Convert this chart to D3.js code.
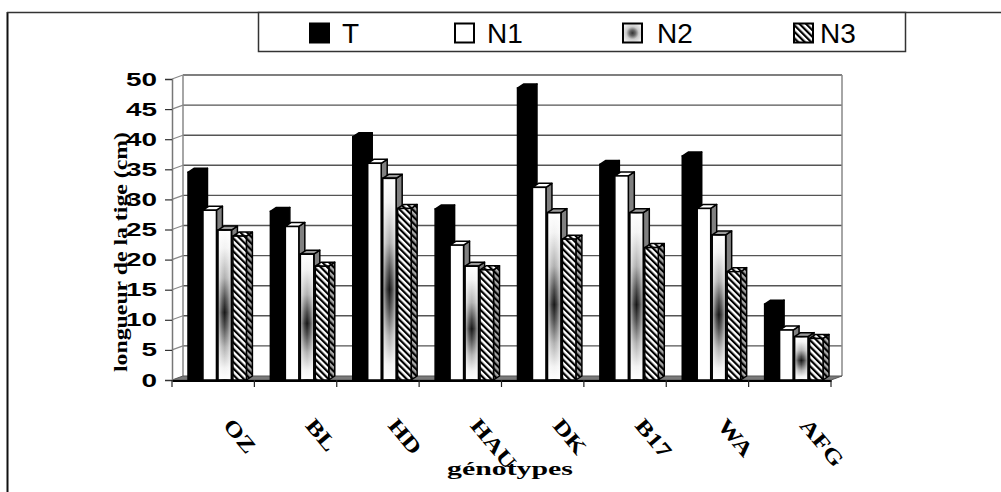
<!DOCTYPE html>
<html><head><meta charset="utf-8">
<script src="https://cdn.jsdelivr.net/npm/d3@7"></script>
<style>html,body{margin:0;padding:0;background:#fff;}svg{display:block;}</style>
</head><body>
<svg id="chart" width="1001" height="492"></svg>
<script>
const categories = ["OZ","BL","HD","HAU","DK","B17","WA","AFG"];
const seriesNames = ["T","N1","N2","N3"];
const valuesT  = [34.5, 28.0, 40.4, 28.4, 48.5, 35.8, 37.2, 12.6];
const valuesN1 = [28.2, 25.5, 36.0, 22.4, 32.0, 33.9, 28.5, 8.3];
const valuesN2 = [24.9, 20.9, 33.5, 18.9, 27.8, 27.8, 24.1, 7.2];
const valuesN3 = [23.9, 18.9, 28.5, 18.3, 23.4, 22.0, 18.0, 6.9];
const yTicks = [0,5,10,15,20,25,30,35,40,45,50];
const yTitle = "longueur de la tige (cm)";
const xTitle = "génotypes";

const seriesValues = [valuesT, valuesN1, valuesN2, valuesN3];

const svg = d3.select("#chart");
const defs = svg.append("defs");

// hatch pattern
const hp = defs.append("pattern").attr("id","hatch").attr("patternUnits","userSpaceOnUse")
  .attr("width",4.6).attr("height",4.6).attr("patternTransform","rotate(-45)");
hp.append("rect").attr("width",4.6).attr("height",4.6).attr("fill","#fff");
hp.append("rect").attr("width",2.2).attr("height",4.6).attr("fill","#000");
const hp2 = defs.append("pattern").attr("id","hatchDark").attr("patternUnits","userSpaceOnUse")
  .attr("width",4.6).attr("height",4.6).attr("patternTransform","rotate(-45)");
hp2.append("rect").attr("width",4.6).attr("height",4.6).attr("fill","#aaa");
hp2.append("rect").attr("width",2.2).attr("height",4.6).attr("fill","#000");

// gradient for N2
const gv = defs.append("linearGradient").attr("id","gradV").attr("x1",0).attr("y1",0).attr("x2",0).attr("y2",1);
[[0,"#ffffff"],[0.12,"#f2f2f2"],[0.32,"#b0b0b0"],[0.46,"#4a4a4a"],[0.55,"#151515"],[0.64,"#4a4a4a"],[0.78,"#b0b0b0"],[0.92,"#f2f2f2"],[1,"#ffffff"]]
  .forEach(([o,c])=>gv.append("stop").attr("offset",o).attr("stop-color",c));
const gh = defs.append("linearGradient").attr("id","gradH").attr("x1",0).attr("y1",0).attr("x2",1).attr("y2",0);
[[0,0.7],[0.3,0.2],[0.5,0],[0.7,0.2],[1,0.7]]
  .forEach(([o,op])=>gh.append("stop").attr("offset",o).attr("stop-color","#fff").attr("stop-opacity",op));
const gr = defs.append("radialGradient").attr("id","gradR").attr("cx",0.5).attr("cy",0.5).attr("r",0.6);
[[0,"#333"],[0.25,"#666"],[0.55,"#ccc"],[1,"#f4f4f4"]]
  .forEach(([o,c])=>gr.append("stop").attr("offset",o).attr("stop-color",c));

// outer frame
svg.append("line").attr("x1",7.5).attr("y1",12).attr("x2",7.5).attr("y2",492).attr("stroke","#111").attr("stroke-width",2);
svg.append("line").attr("x1",7).attr("y1",12.5).attr("x2",1001).attr("y2",12.5).attr("stroke","#333").attr("stroke-width",1.5);

// scales
const pLeft = 172, pRight = 831, pBottom = 380, pTop = 79;
const DX = 11, DY = -4;     // wall depth
const dx = 6, dy = -4;      // bar depth
const y = d3.scaleLinear().domain([0,50]).range([pBottom, pTop]);
const x0 = d3.scaleBand().domain(categories).range([pLeft, pRight]).paddingInner(0).paddingOuter(0);
const x1 = d3.scaleBand().domain(seriesNames).range([16, 16 + 58.4]).paddingInner(0.1).paddingOuter(0);

const g = svg.append("g");

// back wall gridlines
yTicks.filter(t=>t>0).forEach(t=>{
  g.append("line").attr("x1",pLeft+DX).attr("x2",pRight+DX).attr("y1",y(t)+DY).attr("y2",y(t)+DY)
    .attr("stroke", "#555").attr("stroke-width",1.4);
  g.append("line").attr("x1",pLeft).attr("x2",pLeft+DX).attr("y1",y(t)).attr("y2",y(t)+DY)
    .attr("stroke","#888").attr("stroke-width",1.2);
});
// wall edges
g.append("line").attr("x1",pLeft+DX).attr("x2",pLeft+DX).attr("y1",y(50)+DY).attr("y2",pBottom+DY).attr("stroke","#888").attr("stroke-width",1.5);
g.append("line").attr("x1",pRight+DX).attr("x2",pRight+DX).attr("y1",y(50)+DY).attr("y2",pBottom+DY).attr("stroke","#888").attr("stroke-width",1.5);
// floor
g.append("polygon").attr("points",[[pLeft,pBottom],[pRight,pBottom],[pRight+DX,pBottom+DY],[pLeft+DX,pBottom+DY]].map(p=>p.join(",")).join(" "))
  .attr("fill","#7a7a7a").attr("stroke","#555").attr("stroke-width",1);

// y axis
const yAxisG = svg.append("g").attr("transform",`translate(${pLeft},0)`)
  .call(d3.axisLeft(y).tickValues(yTicks).tickSize(7).tickFormat(""));
yAxisG.select(".domain").attr("stroke","#777").attr("stroke-width",1.5);
yAxisG.selectAll(".tick line").attr("stroke","#333").attr("stroke-width",1.2);
// y tick labels
svg.append("g").selectAll("text").data(yTicks).join("text")
  .attr("transform", d=>`translate(157,${y(d)+6.5}) scale(1.55,1)`)
  .attr("text-anchor","end").attr("font-family","Liberation Sans, Arial, sans-serif")
  .attr("font-weight","bold").attr("font-size",18).attr("fill","#000").text(d=>d);

// x axis
const xAxisG = svg.append("g").attr("transform",`translate(0,${pBottom+0.5})`)
  .call(d3.axisBottom(x0).tickSize(0).tickFormat(""));
xAxisG.select(".domain").attr("stroke","#000").attr("stroke-width",2);
const boundaries = categories.map(c=>x0(c)).concat([pRight]);
svg.append("g").selectAll("line").data(boundaries).join("line")
  .attr("x1",d=>d).attr("x2",d=>d).attr("y1",pBottom).attr("y2",pBottom+7)
  .attr("stroke","#222").attr("stroke-width",1.2);

// bars
const fronts = ["#000","#fff","url(#gradV)","url(#hatch)"];
const tops = ["#000","#fff","#9a9a9a","url(#hatch)"];
const sides = ["#000","#808080","#808080","url(#hatchDark)"];
const barW = x1.bandwidth();
const pts = a=>a.map(p=>p.join(",")).join(" ");
const barsG = svg.append("g");
categories.forEach((c,i)=>{
  seriesNames.forEach((s,j)=>{
    const v = seriesValues[j][i];
    const bx = x0(c) + x1(s);
    const by = y(v);
    const bg = barsG.append("g");
    bg.append("polygon").attr("points",pts([[bx+barW,by],[bx+barW+dx,by+dy],[bx+barW+dx,pBottom+dy],[bx+barW,pBottom]]))
      .attr("fill",sides[j]).attr("stroke","#000").attr("stroke-width",1.5).attr("stroke-linejoin","round");
    bg.append("polygon").attr("points",pts([[bx,by],[bx+dx,by+dy],[bx+barW+dx,by+dy],[bx+barW,by]]))
      .attr("fill",tops[j]).attr("stroke","#000").attr("stroke-width",1.5).attr("stroke-linejoin","round");
    bg.append("rect").attr("x",bx).attr("y",by).attr("width",barW).attr("height",pBottom-by)
      .attr("fill",fronts[j]).attr("stroke","#000").attr("stroke-width",1.5);
    if (j===2) {
      bg.append("rect").attr("x",bx).attr("y",by).attr("width",barW).attr("height",pBottom-by)
        .attr("fill","url(#gradH)").attr("stroke","#000").attr("stroke-width",1.5);
    }
  });
});

// category labels
svg.append("g").selectAll("text").data(categories).join("text")
  .attr("transform", d=>`translate(${x0(d)+x0.bandwidth()/2+9},426) rotate(50) scale(1.25,1)`)
  .attr("text-anchor","start").attr("font-family","Liberation Serif, Times New Roman, serif")
  .attr("font-weight","bold").attr("font-size",21).attr("fill","#000").text(d=>d);

// axis titles
svg.append("text").attr("x",510).attr("y",475).attr("text-anchor","middle")
  .attr("font-family","Liberation Serif, Times New Roman, serif").attr("font-weight","bold")
  .attr("font-size",19).attr("textLength",126).attr("lengthAdjust","spacingAndGlyphs").text(xTitle);
svg.append("text").attr("transform","translate(127,252) rotate(-90)").attr("text-anchor","middle")
  .attr("font-family","Liberation Serif, Times New Roman, serif").attr("font-weight","bold")
  .attr("font-size",18).attr("textLength",240).attr("lengthAdjust","spacingAndGlyphs").text(yTitle);

// legend
svg.append("rect").attr("x",258.5).attr("y",12.5).attr("width",647).attr("height",39)
  .attr("fill","#fff").attr("stroke","#333").attr("stroke-width",1.5);
const legX = [310, 455, 623, 794];
const legTX = [342, 487, 657, 820];
const legFill = ["#000","#fff","url(#gradR)","url(#hatch)"];
const lg = svg.append("g").selectAll("g").data(seriesNames).join("g");
lg.append("rect").attr("x",(d,i)=>legX[i]).attr("y",23.5).attr("width",19).attr("height",19)
  .attr("fill",(d,i)=>legFill[i]).attr("stroke","#000").attr("stroke-width",2);
lg.append("text").attr("x",(d,i)=>legTX[i]).attr("y",43).attr("font-family","Liberation Sans, Arial, sans-serif")
  .attr("font-size",28).attr("fill","#000").text(d=>d);
</script>
</body></html>
